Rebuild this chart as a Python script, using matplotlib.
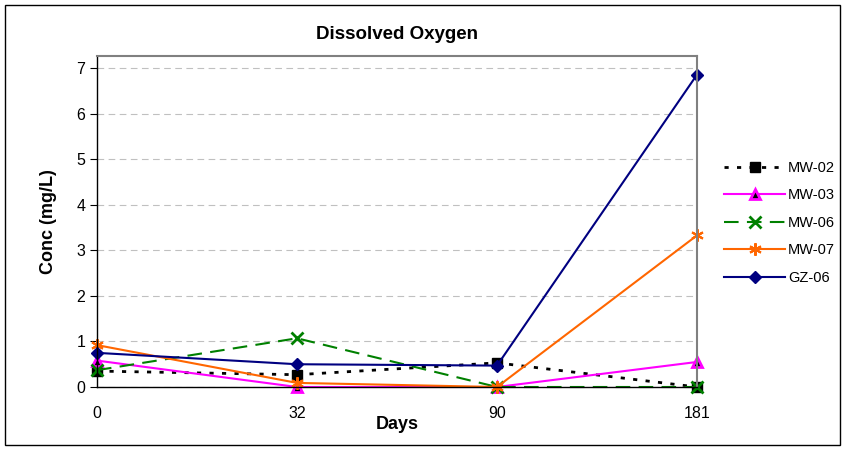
import matplotlib
matplotlib.use("Agg")
import matplotlib.pyplot as plt
from matplotlib.patches import Rectangle

days = ["0", "32", "90", "181"]
mw02 = [0.35, 0.27, 0.53, 0.0]
mw03 = [0.58, 0.0, 0.0, 0.55]
mw06 = [0.37, 1.07, 0.0, 0.0]
mw07 = [0.92, 0.09, 0.0, 3.33]
gz06 = [0.75, 0.50, 0.47, 6.86]

plt.rcParams['font.family'] = ['Liberation Sans', 'DejaVu Sans']
fig = plt.figure(figsize=(8.45, 4.5), dpi=100)
ax = fig.add_axes([97/845, 1-387/450, 600/845, (387-56)/450])
x = list(range(len(days)))

ax.plot(x, mw02, color='black', linestyle=(0, (1.5, 3)), lw=2, marker='s', ms=7, mfc='black', mec='black', label='MW-02', clip_on=False)
ax.plot(x, mw03, color='#FF00FF', lw=1.5, marker='^', ms=7, mfc='black', mec='#FF00FF', mew=2, label='MW-03', clip_on=False)
ax.plot(x, mw06, color='#008000', linestyle=(0, (7, 4)), lw=1.5, marker='x', ms=8, mew=2, label='MW-06', clip_on=False)
ax.plot(x, mw07, color='#FF6600', lw=1.5, marker=(6, 2, 0), ms=9, mew=1.5, label='MW-07', clip_on=False)
ax.plot(x, gz06, color='#000080', lw=1.5, marker='D', ms=6, label='GZ-06', clip_on=False)

ax.set_xlim(0, 3)
ax.set_ylim(0, 7.27)
ax.set_xticks(x)
ax.set_xticklabels(days)
ax.set_yticks(range(0, 8))
ax.yaxis.grid(True, color='#C0C0C0', linestyle=(0, (6, 4)), lw=0.8)
ax.set_axisbelow(True)
for s in ['top', 'right']:
    ax.spines[s].set_color('#808080')
    ax.spines[s].set_linewidth(1.5)
for s in ['left', 'bottom']:
    ax.spines[s].set_color('black')
    ax.spines[s].set_linewidth(1.0)
ax.tick_params(axis='both', labelsize=11.5, direction='out', length=5)
ax.tick_params(axis='x', pad=14, length=0)
ax.set_title('Dissolved Oxygen', fontsize=13.5, fontweight='bold', pad=12)
ax.set_xlabel('Days', fontsize=13, fontweight='bold', labelpad=-4)
ax.set_ylabel('Conc (mg/L)', fontsize=13, fontweight='bold', labelpad=14)

handles, labels = ax.get_legend_handles_labels()
leg = fig.legend(handles, labels, loc='upper left', bbox_to_anchor=(724/845, 1-161/450),
                 frameon=False, fontsize=10.5, handlelength=4.2, labelspacing=0.92,
                 handletextpad=0.2, borderpad=0, borderaxespad=0)

fig.patches.append(Rectangle((5/845, 5/450), 835/845, 440/450, transform=fig.transFigure,
                             fill=False, edgecolor='black', lw=1))
fig.savefig('out.png', dpi=100)
